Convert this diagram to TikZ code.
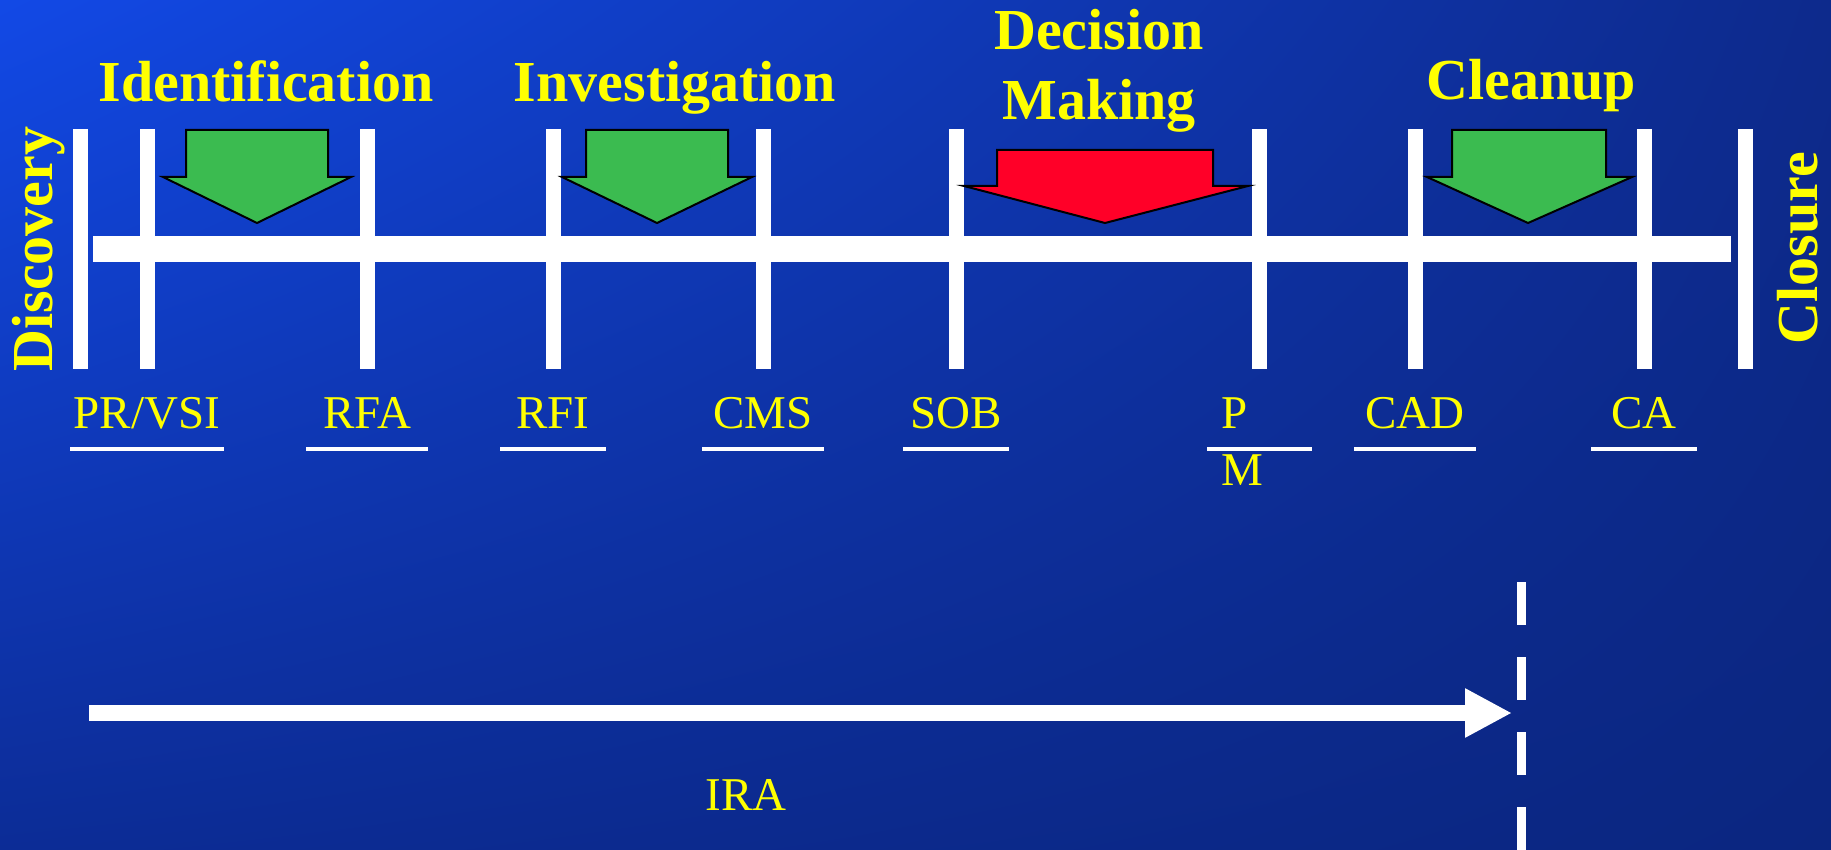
\documentclass[tikz,border=0pt]{standalone}
\usepackage{fontspec}
\setmainfont{Liberation Serif}
\usepackage{xcolor}
\usepackage{tikz}
\usetikzlibrary{arrows.meta}
\usetikzlibrary{shadings}

\definecolor{bgtl}{RGB}{18,73,230}
\definecolor{bgtr}{RGB}{13,42,140}
\definecolor{bgbl}{RGB}{12,44,150}
\definecolor{bgbr}{RGB}{11,38,128}
\definecolor{labelyellow}{RGB}{255,255,0}
\definecolor{phasegreen}{RGB}{59,187,80}
\definecolor{phasered}{RGB}{255,0,40}

\tikzset{
	phase/.style={text=labelyellow,inner sep=0pt,font=\fontsize{58}{70}\selectfont\bfseries},
	milestone/.style={text=labelyellow,inner sep=0pt,anchor=base,font=\fontsize{47}{56}\selectfont},
	tickbar/.style={white,line width=15pt},
	underbar/.style={white,line width=4.5pt},
	blockarrow/.style={draw=black,line width=2pt,line join=miter},
	bigarrow/.style={white,line width=16pt,-{Triangle[length=47pt,width=46pt]}}
}

\begin{document}
\begin{tikzpicture}[x=1pt,y=-1pt]
	\useasboundingbox (0,0) rectangle (1831,850);
	\shade[upper left=bgtl,upper right=bgtr,lower left=bgbl,lower right=bgbr] (0,0) rectangle (1831,850);
	% time line
	\draw[white,line width=26pt] (93,249)--(1731,249);
	\draw[tickbar] (80,129)--(80,369);
	\draw[tickbar] (1745,129)--(1745,369);
	\foreach \x/\w/\name/\txt in {147/77/prvsi/{PR/VSI},367/61/rfa/RFA,553/53/rfi/RFI,763/61/cms/CMS,956/53/sob/SOB,1415/61/cad/CAD,1644/53/ca/CA}{
		\draw[tickbar] (\x,129)--(\x,369);
		\node[milestone] (\name) at (\x,428) {\txt};
		\draw[underbar] (\x-\w,449)--(\x+\w,449);
	}
	\draw[tickbar] (1259,129)--(1259,369);
	\node[milestone,anchor=base west] (pm) at (1221,428) {P};
	\node[milestone,anchor=base west] (pmlow) at ([yshift=-57pt]pm.base west) {M};
	\draw[underbar] (1207,449)--(1312,449);
	% phases
	\node[phase,rotate=90,anchor=base] (discovery) at (52,249) {Discovery};
	\node[phase,rotate=90,anchor=base] (closure) at (1817,248) {Closure};
	\node[phase,anchor=base] (identification) at (266,102) {Identification};
	\node[phase,anchor=base] (investigation) at (675,102) {Investigation};
	\node[phase,anchor=base] (decision) at (1099,50) {Decision};
	\node[phase,anchor=base] (making) at ([yshift=-70pt]decision.base) {Making};
	\node[phase,anchor=base] (cleanup) at (1531,100) {Cleanup};
	\draw[blockarrow,fill=phasegreen] (186,130)--(328,130)--(328,177)--(351,177)--(257,223)--(163,177)--(186,177)--cycle;
	\draw[blockarrow,fill=phasegreen] (586,130)--(728,130)--(728,177)--(752,177)--(657,223)--(562,177)--(586,177)--cycle;
	\draw[blockarrow,fill=phasered] (997,150)--(1213,150)--(1213,186)--(1248,186)--(1105,223)--(964,186)--(997,186)--cycle;
	\draw[blockarrow,fill=phasegreen] (1452,130)--(1606,130)--(1606,177)--(1632,177)--(1528,223)--(1427,177)--(1452,177)--cycle;
	% IRA
	\coordinate (irastart) at (89,713);
	\coordinate (iraend) at (1512,713);
	\draw[bigarrow] (irastart)--(iraend);
	\node[milestone] (ira) at (746,810) {IRA};
	\coordinate (cutofftop) at (1521,582);
	\coordinate (cutoffbottom) at (1521,850);
	\draw[white,line width=9pt,dash pattern=on 43pt off 32pt] (cutofftop)--(cutoffbottom);
\end{tikzpicture}
\end{document}
